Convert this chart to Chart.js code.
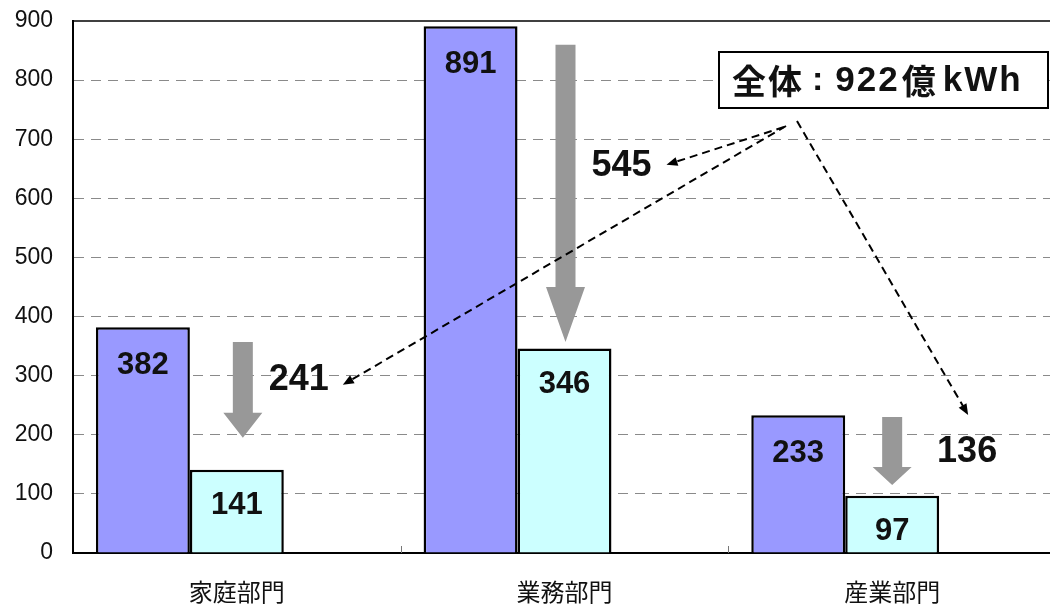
<!DOCTYPE html>
<html>
<head>
<meta charset="utf-8">
<script src="https://cdn.jsdelivr.net/npm/chart.js@4/dist/chart.umd.min.js"></script>
<style>
html,body{margin:0;padding:0;background:#fff;overflow:hidden;}
#wrap{position:relative;width:1056px;height:608px;}
</style>
</head>
<body>
<div id="wrap"><canvas id="savingChart" width="1056" height="608"></canvas></div>
<script>
const sectors=["家庭部門","業務部門","産業部門"];
const beforeValues=[382,891,233];
const afterValues=[141,346,97];
const yTicks=[0,100,200,300,400,500,600,700,800,900];

const reductions=beforeValues.map((v,i)=>v-afterValues[i]);
const totalReduction=reductions.reduce((a,b)=>a+b,0);

const NUM_FONT='"Liberation Sans", Arial, sans-serif';
const JP_FONT='"Noto Sans CJK JP", "Noto Sans", sans-serif';

//------------------------
// annotation layout
//------------------------
// grey arrows span (axis units), head length in px
const greyArrows=[
    {top:357,tip:195,head:25,dx:6},
    {top:860,tip:357,head:55,dx:1},
    {top:230,tip:115,head:18,dx:0}
];
// reduction figures: y in axis units, x offset from after-bar right edge
const reductionNotes=[
    {y:293,dx:15},
    {y:655,dx:10},
    {y:171,dx:28}
];

function arrowHead(ctx,x1,y1,x2,y2,len,half){
    const a=Math.atan2(y2-y1,x2-x1);
    ctx.beginPath();
    ctx.moveTo(x2,y2);
    ctx.lineTo(x2-len*Math.cos(a)+half*Math.sin(a),y2-len*Math.sin(a)-half*Math.cos(a));
    ctx.lineTo(x2-len*Math.cos(a)-half*Math.sin(a),y2-len*Math.sin(a)+half*Math.cos(a));
    ctx.closePath();
    ctx.fill();
}

const notesPlugin={
    id:"notes",
    afterDatasetsDraw(chart){
        const ctx=chart.ctx;
        const area=chart.chartArea;
        const y=chart.scales.y;
        const x=chart.scales.x;
        const beforeBars=chart.getDatasetMeta(0).data;
        const afterBars=chart.getDatasetMeta(1).data;

        ctx.save();

        // top frame line
        ctx.strokeStyle="#000";
        ctx.lineWidth=1.5;
        ctx.beginPath();
        ctx.moveTo(area.left,area.top);
        ctx.lineTo(area.right,area.top);
        ctx.stroke();

        // category boundary ticks
        const half=(x.getPixelForValue(1)-x.getPixelForValue(0))/2;
        ctx.strokeStyle="#777";
        ctx.lineWidth=1;
        for(let i=0;i<sectors.length-1;i++){
            const px=Math.round(x.getPixelForValue(i)+half)+0.5;
            ctx.beginPath();
            ctx.moveTo(px,area.bottom);
            ctx.lineTo(px,area.bottom-7);
            ctx.stroke();
        }

        // value labels inside bars
        ctx.fillStyle="#111";
        ctx.font="bold 31px "+NUM_FONT;
        ctx.textAlign="center";
        ctx.textBaseline="middle";
        beforeBars.forEach((b,i)=>ctx.fillText(beforeValues[i],b.x,b.y+38));
        afterBars.forEach((b,i)=>ctx.fillText(afterValues[i],b.x,b.y+36));

        // grey reduction arrows
        ctx.fillStyle="#989898";
        greyArrows.forEach((g,i)=>{
            const cx=afterBars[i].x+g.dx;
            const top=y.getPixelForValue(g.top);
            const tip=y.getPixelForValue(g.tip);
            const neck=tip-g.head;
            ctx.beginPath();
            ctx.moveTo(cx-10,top);
            ctx.lineTo(cx+10,top);
            ctx.lineTo(cx+10,neck);
            ctx.lineTo(cx+19.5,neck);
            ctx.lineTo(cx,tip);
            ctx.lineTo(cx-19.5,neck);
            ctx.lineTo(cx-10,neck);
            ctx.closePath();
            ctx.fill();
        });

        // reduction figures
        ctx.fillStyle="#111";
        ctx.font="bold 36px "+NUM_FONT;
        const labelPos=reductionNotes.map((n,i)=>{
            const b=afterBars[i];
            const cx=b.x+b.width/2+n.dx;
            const cy=y.getPixelForValue(n.y);
            ctx.fillText(reductions[i],cx,cy);
            const w=ctx.measureText(String(reductions[i])).width;
            return {cx:cx,cy:cy,w:w};
        });

        // total box
        const box={x:719,y:52,w:329,h:56};
        ctx.fillStyle="#fff";
        ctx.fillRect(box.x,box.y,box.w,box.h);
        ctx.strokeStyle="#000";
        ctx.lineWidth=2;
        ctx.strokeRect(box.x,box.y,box.w,box.h);

        ctx.fillStyle="#111";
        ctx.textAlign="left";
        ctx.textBaseline="middle";
        let tx=box.x+13;
        const ty=box.y+box.h/2+1;
        const parts=[
            {t:"全体",f:"bold 34px "+JP_FONT,gap:8},
            {t:":",f:"bold 34px "+NUM_FONT,gap:10},
            {t:String(totalReduction),f:"bold 35px "+NUM_FONT,gap:2},
            {t:"億",f:"bold 34px "+JP_FONT,gap:5},
            {t:"kWh",f:"bold 35px "+NUM_FONT,gap:0}
        ];
        parts.forEach(p=>{
            ctx.font=p.f;
            ctx.letterSpacing="2px";
            ctx.fillText(p.t,tx,ty);
            tx+=ctx.measureText(p.t).width+p.gap;
        });
        ctx.letterSpacing="0px";

        // dashed pointers from the box to each figure
        ctx.strokeStyle="#000";
        ctx.fillStyle="#000";
        ctx.lineWidth=2;
        const pointers=[
            {x1:786,y1:126,x2:labelPos[0].cx+labelPos[0].w/2+14,y2:labelPos[0].cy+5},
            {x1:784,y1:127,x2:labelPos[1].cx+labelPos[1].w/2+15,y2:labelPos[1].cy-1},
            {x1:797,y1:121,x2:labelPos[2].cx+1,y2:labelPos[2].cy-37}
        ];
        pointers.forEach(p=>{
            const a=Math.atan2(p.y2-p.y1,p.x2-p.x1);
            ctx.setLineDash([8,5]);
            ctx.beginPath();
            ctx.moveTo(p.x1,p.y1);
            ctx.lineTo(p.x2-8*Math.cos(a),p.y2-8*Math.sin(a));
            ctx.stroke();
            ctx.setLineDash([]);
            arrowHead(ctx,p.x1,p.y1,p.x2,p.y2,11,4.5);
        });

        ctx.restore();
    }
};

new Chart(document.getElementById("savingChart"),{
    type:"bar",
    data:{
        labels:sectors,
        datasets:[
            {label:"対策前",data:beforeValues,backgroundColor:"#9999ff",borderColor:"#000",borderWidth:2.5},
            {label:"対策後",data:afterValues,backgroundColor:"#ccffff",borderColor:"#000",borderWidth:2.5},
            {label:"",data:[null,null,null]}
        ]
    },
    options:{
        responsive:false,
        animation:false,
        layout:{padding:{top:21,right:0,left:0,bottom:0}},
        datasets:{bar:{categoryPercentage:0.86,barPercentage:1}},
        plugins:{legend:{display:false},tooltip:{enabled:false}},
        scales:{
            x:{
                grid:{display:false},
                border:{display:true,color:"#000",width:2},
                ticks:{color:"#111",padding:16,font:{family:JP_FONT,size:24}},
                afterFit:s=>{s.height=55;s.paddingLeft=0;s.paddingRight=0;}
            },
            y:{
                min:0,max:900,
                afterBuildTicks:s=>{s.ticks=yTicks.map(v=>({value:v}));},
                grid:{
                    drawTicks:false,
                    color:c=>(c.tick.value===0||c.tick.value===900)?"rgba(0,0,0,0)":"#8a8a8a",
                    lineWidth:1
                },
                border:{display:true,color:"#000",width:2,dash:[10,7]},
                ticks:{color:"#111",padding:20,font:{family:NUM_FONT,size:23}},
                afterFit:s=>{s.width=73;s.paddingTop=0;s.paddingBottom=0;}
            }
        }
    },
    plugins:[notesPlugin]
});
</script>
</body>
</html>
